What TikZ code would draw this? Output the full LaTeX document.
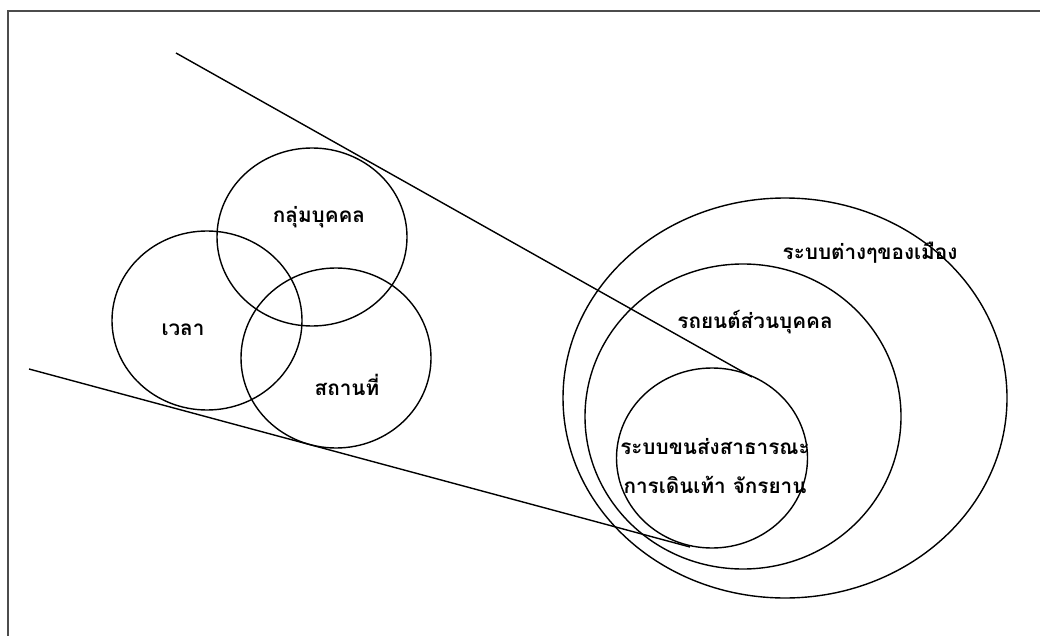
\documentclass[tikz,border=0pt]{standalone}
\usepackage{fontspec}
\newfontfamily\thaifont[Script=Thai]{Loma}
\usetikzlibrary{shapes.geometric}
\begin{document}
\begin{tikzpicture}[x=1pt,y=-1pt,
  ring/.style={draw, ellipse, line width=1.4pt, inner sep=0pt, outer sep=0pt},
  lbl/.style={font=\thaifont\bfseries\fontsize{20.7}{24}\selectfont, inner sep=0pt},
  conn/.style={line width=1.4pt}]
\useasboundingbox (0,0) rectangle (1040,636);
\coordinate (fl) at (7.5,636);
\coordinate (fc) at (7.5,11);
\coordinate (fr) at (1040,11);
\draw[gray!60!black, line width=2pt] (fl) -- (fc) -- (fr);
% left group
\node[ring, minimum width=190, minimum height=178] (grp) at (312,237) {};
\node[ring, minimum width=190, minimum height=179] (time) at (207,320.5) {};
\node[ring, minimum width=190, minimum height=180] (place) at (336,358) {};
\node[lbl] (tgrp) at (319,217) {กลุ่มบุคคล};
\node[lbl] (ttime) at (183,330) {เวลา};
\node[lbl] (tplace) at (347,385) {สถานที่};
% right group
\node[ring, minimum width=444, minimum height=400] (city) at (785,398) {};
\node[ring, minimum width=316, minimum height=305] (car) at (743,416.5) {};
\node[ring, minimum width=191, minimum height=180] (pub) at (712,458) {};
\node[lbl] (tcity) at (870,253) {ระบบต่างๆของเมือง};
\node[lbl] (tcar) at (755,322) {รถยนต์ส่วนบุคคล};
\node[lbl] (tpub1) at (715,447) {ระบบขนส่งสาธารณะ};
\node[lbl] (tpub2) at (715,485) {การเดินเท้า จักรยาน};
% tangent lines
\coordinate (l1a) at (176,53);
\coordinate (l1b) at (752,377);
\coordinate (l2a) at (29,369);
\coordinate (l2b) at (690,547);
\draw[conn] (l1a) -- (l1b);
\draw[conn] (l2a) -- (l2b);
\end{tikzpicture}
\end{document}
